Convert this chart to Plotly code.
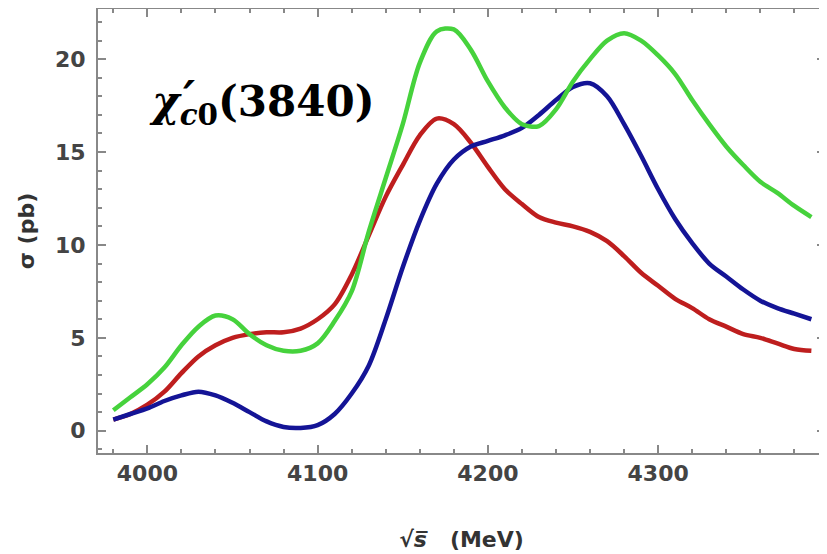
import plotly.graph_objects as go

energy = [3980, 3990, 4000, 4010, 4020, 4030, 4040, 4050, 4060, 4070, 4080, 4090,
          4100, 4110, 4120, 4130, 4140, 4150, 4160, 4170, 4180, 4190, 4200, 4210,
          4220, 4230, 4240, 4250, 4260, 4270, 4280, 4290, 4300, 4310, 4320, 4330,
          4340, 4350, 4360, 4370, 4380, 4390]

sigma_green = [1.1, 1.8, 2.5, 3.4, 4.6, 5.6, 6.2, 6.0, 5.2, 4.6, 4.3, 4.3,
               4.7, 5.9, 7.5, 10.7, 13.6, 16.5, 19.8, 21.5, 21.6, 20.5, 18.8, 17.4,
               16.5, 16.4, 17.3, 18.8, 20.0, 21.0, 21.4, 21.0, 20.2, 19.2, 17.8, 16.5,
               15.3, 14.3, 13.4, 12.8, 12.1, 11.5]

sigma_red = [0.6, 0.9, 1.4, 2.1, 3.1, 4.0, 4.6, 5.0, 5.2, 5.3, 5.3, 5.5,
             6.0, 6.8, 8.4, 10.5, 12.6, 14.3, 15.9, 16.8, 16.5, 15.5, 14.2, 13.0,
             12.2, 11.5, 11.2, 11.0, 10.7, 10.2, 9.4, 8.5, 7.8, 7.1, 6.6, 6.0,
             5.6, 5.2, 5.0, 4.7, 4.4, 4.3]

sigma_blue = [0.6, 0.9, 1.2, 1.6, 1.9, 2.1, 1.9, 1.5, 1.0, 0.5, 0.2, 0.15,
              0.3, 0.9, 2.0, 3.5, 6.0, 8.8, 11.3, 13.3, 14.6, 15.3, 15.6, 15.9,
              16.3, 17.0, 17.8, 18.5, 18.7, 18.0, 16.5, 14.8, 13.0, 11.4, 10.1, 9.0,
              8.3, 7.6, 7.0, 6.6, 6.3, 6.0]

x_ticks = [4000, 4100, 4200, 4300]
y_ticks = [0, 5, 10, 15, 20]

fig = go.Figure()
for ys, col in [(sigma_red, "rgb(190,30,30)"),
                (sigma_blue, "rgb(20,20,150)"),
                (sigma_green, "rgb(70,210,60)")]:
    fig.add_trace(go.Scatter(x=energy, y=ys, mode="lines",
                             line=dict(color=col, width=4.5, shape="spline", smoothing=0.9),
                             showlegend=False, hoverinfo="skip"))

tickfont = dict(family="DejaVu Sans", size=22, color="#444", weight="bold")
titlefont = dict(family="DejaVu Sans", size=22, color="#333", weight="bold")
axcommon = dict(showline=True, linecolor="#888", linewidth=2, mirror="allticks",
                ticks="inside", ticklen=8, tickcolor="#888", tickwidth=1.5,
                showgrid=False, zeroline=False, tickfont=tickfont, automargin=False)

fig.update_xaxes(range=[3971, 4398], tickvals=x_ticks, **axcommon,
                 minor=dict(ticks="inside", dtick=20, tick0=4000, ticklen=4,
                            tickcolor="#888", showgrid=False),
                 title=dict(text="√<i>s̅</i>   (MeV)", font=titlefont, standoff=46))
fig.update_yaxes(range=[-1.2, 22.7], tickvals=y_ticks, **axcommon,
                 ticklabelstandoff=6,
                 minor=dict(ticks="inside", dtick=1, tick0=0, ticklen=4,
                            tickcolor="#888", showgrid=False),
                 title=dict(text="σ (pb)", font=titlefont, standoff=14))

fig.add_annotation(xref="paper", yref="paper", x=0.067, y=0.786,
                   xanchor="left", yanchor="middle", showarrow=False,
                   text="<i>χ</i><sub><i>c</i>0</sub>(3840)",
                   font=dict(family="DejaVu Serif", size=42, color="black", weight="bold"))
fig.add_annotation(xref="paper", yref="paper", x=0.114, y=0.80,
                   xanchor="left", yanchor="middle", showarrow=False,
                   text="<i>′</i>",
                   font=dict(family="DejaVu Serif", size=46, color="black", weight="bold"))

fig.update_layout(width=827, height=554, plot_bgcolor="white", paper_bgcolor="white",
                  margin=dict(l=90, r=10, t=1, b=109))

fig.write_html("out.html")
